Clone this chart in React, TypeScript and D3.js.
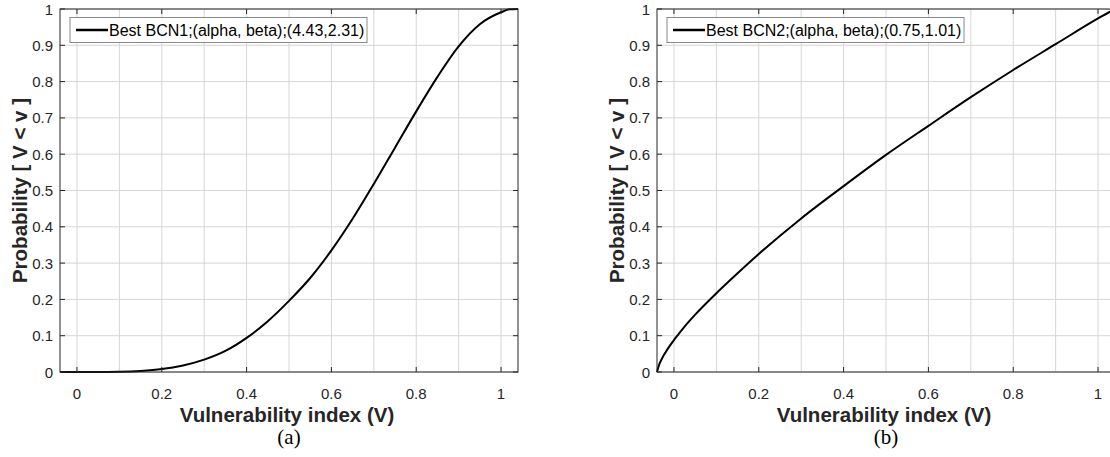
import React from 'react';
import * as d3 from 'd3';

const xTicks = [0, 0.2, 0.4, 0.6, 0.8, 1];
const yTicks = [0, 0.1, 0.2, 0.3, 0.4, 0.5, 0.6, 0.7, 0.8, 0.9, 1];
const xGrid = [0, 0.1, 0.2, 0.3, 0.4, 0.5, 0.6, 0.7, 0.8, 0.9, 1];
const yGrid = [0, 0.1, 0.2, 0.3, 0.4, 0.5, 0.6, 0.7, 0.8, 0.9, 1];

const bcn1X = [-0.04, 0, 0.05, 0.1, 0.15, 0.2, 0.25, 0.3, 0.35, 0.4, 0.45, 0.5, 0.55, 0.6, 0.65, 0.7, 0.75, 0.8, 0.85, 0.9, 0.95, 1.0, 1.02, 1.04];
const bcn1Y = [0, 0, 0.0002, 0.0008, 0.003, 0.008, 0.018, 0.034, 0.058, 0.094, 0.14, 0.196, 0.259, 0.335, 0.422, 0.518, 0.618, 0.718, 0.813, 0.897, 0.958, 0.991, 0.999, 1.0];

const bcn2X = [-0.04, -0.035, -0.03, -0.02, -0.01, 0, 0.01, 0.025, 0.05, 0.1, 0.15, 0.2, 0.3, 0.4, 0.5, 0.6, 0.7, 0.8, 0.9, 1.0, 1.04];
const bcn2Y = [0, 0.02, 0.033, 0.054, 0.072, 0.088, 0.103, 0.125, 0.158, 0.217, 0.272, 0.325, 0.423, 0.512, 0.598, 0.678, 0.757, 0.832, 0.903, 0.974, 1.0];

const legend1 = 'Best BCN1;(alpha, beta);(4.43,2.31)';
const legend2 = 'Best BCN2;(alpha, beta);(0.75,1.01)';
const xLabel = 'Vulnerability index (V)';
const yLabel = 'Probability [ V < v ]';

const AX = '#262626';
const GRID = '#d6d6d6';
const FONT = 'Arial, "Liberation Sans", Helvetica, sans-serif';

function Panel({ left, xs, ys, legend, letter, legendW }: any) {
  const W = 458;
  const top = 9;
  const bottom = 372;
  const x = d3.scaleLinear().domain([-0.04, 1.04]).range([left, left + W]);
  const y = d3.scaleLinear().domain([0, 1]).range([bottom, top]);
  const line = d3
    .line<number>()
    .x((_, i) => x(xs[i]))
    .y((_, i) => y(ys[i]))
    .curve(d3.curveMonotoneX);
  const pts = xs.map((_: number, i: number) => i);
  const cx = left + W / 2;
  const tl = 5;
  return (
    <g>
      {xGrid.map((v) => (
        <line key={'gx' + v} x1={x(v)} x2={x(v)} y1={top} y2={bottom} stroke={GRID} strokeWidth={1} />
      ))}
      {yGrid.map((v) => (
        <line key={'gy' + v} x1={left} x2={left + W} y1={y(v)} y2={y(v)} stroke={GRID} strokeWidth={1} />
      ))}
      <path d={line(pts) || ''} fill="none" stroke="#000" strokeWidth={2} />
      <rect x={left} y={top} width={W} height={bottom - top} fill="none" stroke={AX} strokeWidth={1} />
      {xTicks.map((v) => (
        <g key={'xt' + v}>
          <line x1={x(v)} x2={x(v)} y1={bottom} y2={bottom - tl} stroke={AX} />
          <line x1={x(v)} x2={x(v)} y1={top} y2={top + tl} stroke={AX} />
          <text x={x(v)} y={398.5} textAnchor="middle" fontSize={15} fill={AX} fontFamily={FONT}>
            {String(v)}
          </text>
        </g>
      ))}
      {yTicks.map((v) => (
        <g key={'yt' + v}>
          <line x1={left} x2={left + tl} y1={y(v)} y2={y(v)} stroke={AX} />
          <line x1={left + W} x2={left + W - tl} y1={y(v)} y2={y(v)} stroke={AX} />
          <text x={left - 7} y={y(v) + 5.5} textAnchor="end" fontSize={15} fill={AX} fontFamily={FONT}>
            {String(v)}
          </text>
        </g>
      ))}
      <text x={cx - 2} y={422} textAnchor="middle" fontSize={20.5} fontWeight="bold" fill={AX} fontFamily={FONT}>
        {xLabel}
      </text>
      <text
        transform={`translate(${left - 33},${(top + bottom) / 2}) rotate(-90)`}
        textAnchor="middle"
        fontSize={20.5}
        fontWeight="bold"
        fill={AX}
        fontFamily={FONT}
      >
        {yLabel}
      </text>
      <text x={cx} y={444} textAnchor="middle" fontSize={21} fill="#000" fontFamily='"Liberation Serif", "Times New Roman", serif'>
        {letter}
      </text>
      <rect x={left + 10} y={17.5} width={legendW} height={25} fill="#fff" stroke="#8a8a8a" strokeWidth={1} />
      <line x1={left + 16} x2={left + 48} y1={30} y2={30} stroke="#000" strokeWidth={2.5} />
      <text x={left + 49} y={35.5} fontSize={16} fill="#000" fontFamily={FONT}>
        {legend}
      </text>
    </g>
  );
}

export default function App() {
  return (
    <svg
      width={1110}
      height={457}
      style={{ position: 'absolute', left: 0, top: 0, background: '#fff', overflow: 'hidden' }}
    >
      <rect x={0} y={0} width={1110} height={457} fill="#fff" />
      <Panel left={60} xs={bcn1X} ys={bcn1Y} legend={legend1} letter="(a)" legendW={297} />
      <Panel left={657} xs={bcn2X} ys={bcn2Y} legend={legend2} letter="(b)" legendW={297} />
    </svg>
  );
}
